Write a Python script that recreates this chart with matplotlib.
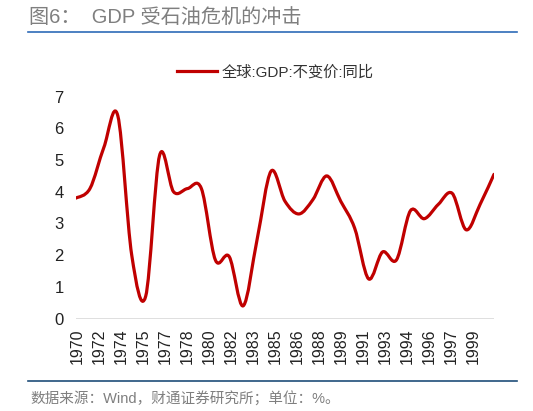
import matplotlib
matplotlib.use("Agg")
import matplotlib.pyplot as plt
import numpy as np
from matplotlib.path import Path
from matplotlib.patches import PathPatch
from matplotlib.lines import Line2D

plt.rcParams["font.family"] = ["Liberation Sans", "Noto Sans CJK SC", "DejaVu Sans"]

# 全球 GDP 不变价同比 (%), 1970-2000
anos = np.arange(1970, 2001)
gdp = [3.8, 4.1, 5.4, 6.4, 2.0, 0.7, 5.15, 4.0, 4.1, 4.1,
       1.85, 1.95, 0.4, 2.5, 4.65, 3.7, 3.3, 3.75, 4.5, 3.7,
       2.85, 1.25, 2.1, 1.85, 3.4, 3.15, 3.6, 3.95, 2.8, 3.6,
       4.55]
rotulos_x = ["1970", "1972", "1974", "1975", "1977", "1978", "1980", "1982",
             "1983", "1985", "1986", "1988", "1989", "1991", "1993", "1994",
             "1996", "1997", "1999"]
serie = "全球:GDP:不变价:同比"
titulo = "图6：  GDP 受石油危机的冲击"
fonte = "数据来源：Wind，财通证券研究所；单位：%。"

VERMELHO = "#c00000"

fig = plt.figure(figsize=(5.33, 4.11), dpi=100)
ax = fig.add_axes([76 / 533, 1 - 318.5 / 411, 418 / 533, (318.5 - 96.7) / 411])

# curva suavizada (estilo Excel) com Bezier cubica
x = anos.astype(float)
y = np.array(gdp, dtype=float)
xp = np.concatenate([[x[0]], x, [x[-1]]])
yp = np.concatenate([[y[0]], y, [y[-1]]])
verts = [(x[0], y[0])]
codes = [Path.MOVETO]
for i in range(len(x) - 1):
    p0 = np.array([xp[i], yp[i]])
    p1 = np.array([xp[i + 1], yp[i + 1]])
    p2 = np.array([xp[i + 2], yp[i + 2]])
    p3 = np.array([xp[i + 3], yp[i + 3]])
    c1 = p1 + (p2 - p0) / 6
    c2 = p2 - (p3 - p1) / 6
    verts += [tuple(c1), tuple(c2), tuple(p2)]
    codes += [Path.CURVE4] * 3
ax.add_patch(PathPatch(Path(verts, codes), fill=False, edgecolor=VERMELHO,
                       lw=2.3, capstyle="round", joinstyle="round"))

ax.set_xlim(1970, 2000)
ax.set_ylim(0, 7)
ax.axhline(0, color="#d9d9d9", lw=1.2, zorder=0)
for s in ax.spines.values():
    s.set_visible(False)

ax.set_yticks(range(0, 8))
ax.set_yticklabels([str(v) for v in range(0, 8)], fontsize=12, color="#222222")
ax.set_xticks(np.linspace(1970.1, 1998.5, len(rotulos_x)))
ax.set_xticklabels(rotulos_x, rotation=90, fontsize=11.5, color="#222222")
ax.tick_params(axis="y", length=0, pad=9)
ax.tick_params(axis="x", length=0, pad=7)

fig.legend(handles=[Line2D([], [], color=VERMELHO, lw=2.3)], labels=[serie],
           loc="center left", bbox_to_anchor=(177 / 533, 1 - 72.5 / 411),
           frameon=False, fontsize=11, handlelength=2.6, handletextpad=0.35,
           borderpad=0, borderaxespad=0, labelcolor="#333333")

# cabecalho e rodape
fig.text(29 / 533, 1 - 17 / 411, titulo, fontsize=14.5, color="#7f7f7f",
         va="center", ha="left")
fig.add_artist(Line2D([28 / 533, 517 / 533], [1 - 32.3 / 411] * 2,
                      color="#2e6bb8", lw=1.2))
fig.add_artist(Line2D([28 / 533, 517 / 533], [1 - 381 / 411] * 2,
                      color="#1f4e79", lw=1.2))
fig.text(30 / 533, 1 - 399 / 411, fonte, fontsize=10.5, color="#7f7f7f",
         va="center", ha="left")

fig.savefig("out.png", dpi=100)
